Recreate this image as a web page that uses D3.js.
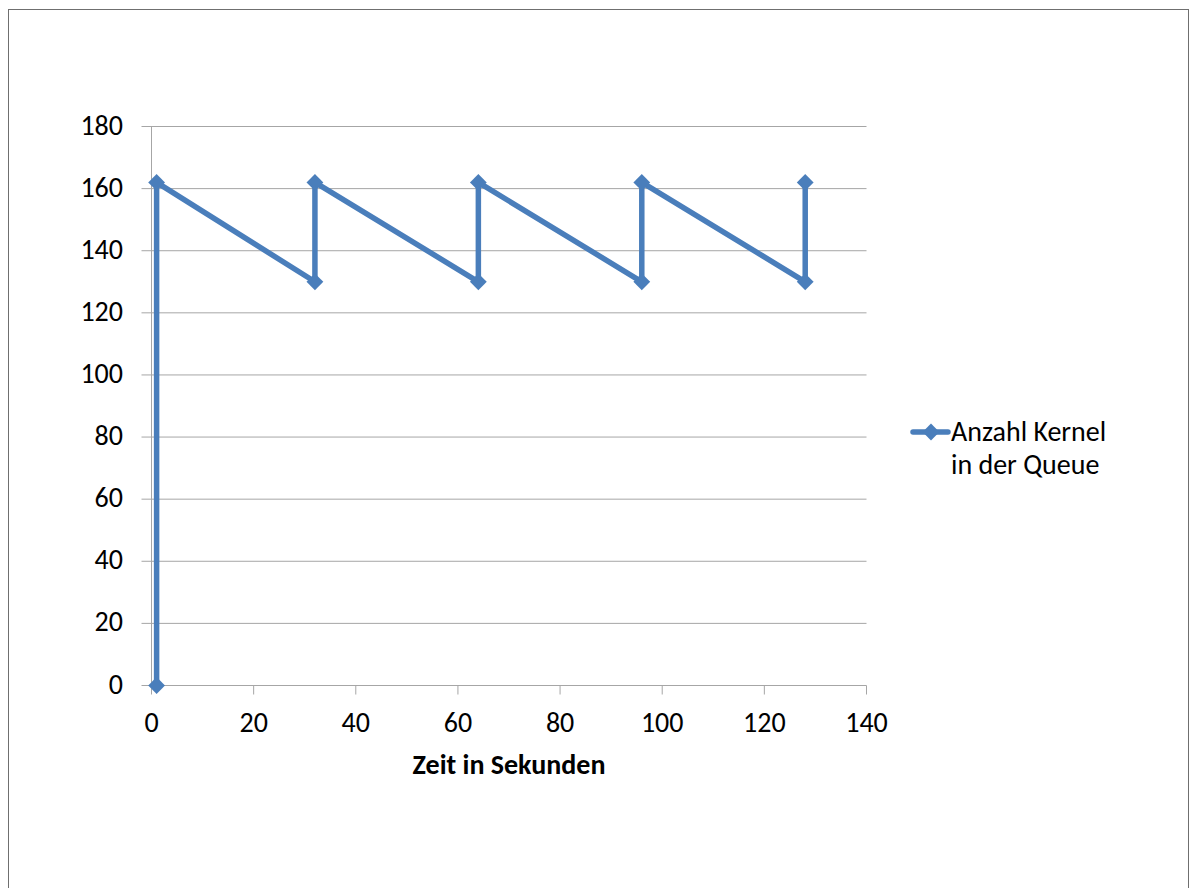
<!DOCTYPE html>
<html>
<head>
<meta charset="utf-8">
<script src="https://cdn.jsdelivr.net/npm/d3@7"></script>
<style>
  body { margin: 0; background: #fff; }
  svg text { font-family: Carlito, "Open Sans", "Liberation Sans", sans-serif; fill: #000; }
</style>
</head>
<body>
<div id="chart"></div>
<script>
// Anzahl Kernel in der Queue über die Zeit
var zeit    = [1, 1, 32, 32, 64, 64, 96, 96, 128, 128];
var kernel  = [0, 162, 130, 162, 130, 162, 130, 162, 130, 162];
var xTicks  = [0, 20, 40, 60, 80, 100, 120, 140];
var yTicks  = [0, 20, 40, 60, 80, 100, 120, 140, 160, 180];
var seriesName = ['Anzahl Kernel', 'in der Queue'];
var xTitle  = 'Zeit in Sekunden';

var width = 1190, height = 888;
var blue = '#4a7ebb', grid = '#a6a6a6';
var fs = '28px';

var svg = d3.select('#chart').append('svg')
	.attr('width', width)
	.attr('height', height);

// outer frame
svg.append('rect')
	.attr('x', 8.5).attr('y', 9.5)
	.attr('width', 1180).attr('height', 900)
	.attr('fill', 'none')
	.attr('stroke', '#6f6f6f')
	.attr('stroke-width', 1);

var x = d3.scaleLinear().domain([0, 140]).range([151.5, 866.5]);
var y = d3.scaleLinear().domain([0, 180]).range([685.5, 126.5]);

// gridlines
svg.append('g').selectAll('line')
	.data(yTicks)
	.enter().append('line')
	.attr('x1', x(0) - 10).attr('x2', x(140))
	.attr('y1', function(d){ return y(d); })
	.attr('y2', function(d){ return y(d); })
	.attr('stroke', grid)
	.attr('stroke-width', 1);

// y axis line
svg.append('line')
	.attr('x1', x(0)).attr('x2', x(0))
	.attr('y1', y(180)).attr('y2', y(0))
	.attr('stroke', grid);

// x ticks
svg.append('g').selectAll('line')
	.data(xTicks)
	.enter().append('line')
	.attr('x1', function(d){ return x(d); })
	.attr('x2', function(d){ return x(d); })
	.attr('y1', y(0)).attr('y2', y(0) + 9)
	.attr('stroke', grid);

// y labels
svg.append('g').selectAll('text')
	.data(yTicks)
	.enter().append('text')
	.attr('x', 123)
	.attr('y', function(d){ return y(d) + 8; })
	.attr('text-anchor', 'end')
	.style('font-size', fs)
	.text(function(d){ return d; });

// x labels
svg.append('g').selectAll('text')
	.data(xTicks)
	.enter().append('text')
	.attr('x', function(d){ return x(d); })
	.attr('y', 732)
	.attr('text-anchor', 'middle')
	.style('font-size', fs)
	.text(function(d){ return d; });

// x axis title
svg.append('text')
	.attr('x', 509).attr('y', 774)
	.attr('text-anchor', 'middle')
	.style('font-size', fs)
	.style('font-weight', 'bold')
	.text(xTitle);

var pts = zeit.map(function(d, i){ return [d, kernel[i]]; });

var line = d3.line()
	.x(function(d){ return x(d[0]); })
	.y(function(d){ return y(d[1]); });

svg.append('path')
	.datum(pts)
	.attr('d', line)
	.attr('fill', 'none')
	.attr('stroke', blue)
	.attr('stroke-width', 5.5)
	.attr('stroke-linejoin', 'round');

var diamond = d3.symbol().type(d3.symbolDiamond2).size(180);

svg.append('g').selectAll('path')
	.data(pts)
	.enter().append('path')
	.attr('d', diamond)
	.attr('transform', function(d){ return 'translate(' + x(d[0]) + ',' + y(d[1]) + ')'; })
	.attr('fill', blue);

// legend
var lg = svg.append('g').attr('transform', 'translate(913,432)');
lg.append('line')
	.attr('x1', 0).attr('x2', 35)
	.attr('stroke', blue).attr('stroke-width', 5.5)
	.attr('stroke-linecap', 'round');
lg.append('path')
	.attr('d', diamond)
	.attr('transform', 'translate(18,0)')
	.attr('fill', blue);
lg.selectAll('text.name')
	.data(seriesName)
	.enter().append('text')
	.attr('class', 'name')
	.attr('x', 38)
	.attr('y', function(d, i){ return 9 + i * 33; })
	.style('font-size', fs)
	.text(function(d){ return d; });
</script>
</body>
</html>
